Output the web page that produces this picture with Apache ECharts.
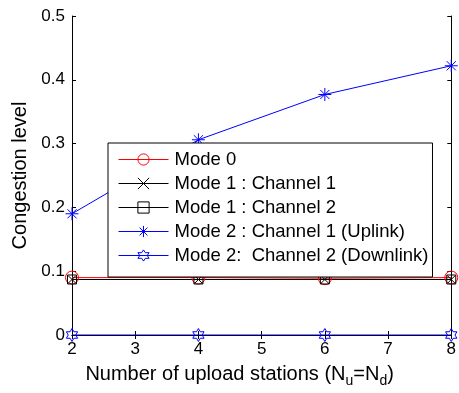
<!DOCTYPE html>
<html><head><meta charset="utf-8">
<script src="https://cdn.jsdelivr.net/npm/echarts@6/dist/echarts.min.js"></script>
<style>html,body{margin:0;padding:0;background:#fff}#c{width:459px;height:393px}</style>
</head><body><div id="c"></div>
<script>
const xValues = [2, 4, 6, 8];
const mode0 = [0.090, 0.090, 0.089, 0.090];
const mode1ch1 = [0.087, 0.087, 0.087, 0.087];
const mode1ch2 = [0.087, 0.087, 0.087, 0.087];
const mode2up = [0.190, 0.306, 0.377, 0.422];
const mode2down = [0, 0, 0, 0];
const seriesNames = ['Mode 0', 'Mode 1 : Channel 1', 'Mode 1 : Channel 2', 'Mode 2 : Channel 1 (Uplink)', 'Mode 2:  Channel 2 (Downlink)'];

const FONT = 'Liberation Sans, Arial, Helvetica, sans-serif';
const crossPath = 'path://M0,0L10,10M10,0L0,10';
const starPath = 'path://M5,0L5,10M0,5L10,5M1.5,1.5L8.5,8.5M8.5,1.5L1.5,8.5';
const hexPath = 'path://M5,0L6.443,2.5L9.33,2.5L7.887,5L9.33,7.5L6.443,7.5L5,10L3.557,7.5L0.67,7.5L2.113,5L0.67,2.5L3.557,2.5Z';

function pts(arr){ return arr.map((v,i)=>[xValues[i], v]); }
function mk(name, data, color, symbol, size){
  return {
    name, type:'line', data: pts(data), symbol, symbolSize: size, symbolKeepAspect: true,
    lineStyle:{color, width:1}, itemStyle:{color:'none', borderColor: color, borderWidth:1},
    emphasis:{disabled:true}, animation:false, z: 3
  };
}
const chart = echarts.init(document.getElementById('c'));
chart.setOption({
  backgroundColor:'#fff',
  animation:false,
  grid:{left:72, right:7, top:16, bottom:52},
  legend:{
    orient:'vertical', left:108, top:143,
    data: seriesNames,
    itemWidth:50, itemHeight:14, itemGap:5,
    padding:[7,4,12,10],
    backgroundColor:'#fff', borderColor:'#000', borderWidth:1,
    lineStyle:{width:1},
    itemStyle:{borderWidth:1},
    textStyle:{fontFamily:FONT, fontSize:18.5, color:'#000', lineHeight:19, padding:[0,0,0,1]},
    selectedMode:false
  },
  xAxis:[{
    type:'value', min:2, max:8, interval:1,
    axisLine:{lineStyle:{color:'#000'}},
    axisTick:{inside:true, length:4, lineStyle:{color:'#000'}},
    axisLabel:{fontFamily:FONT, fontSize:17, color:'#000', margin:6},
    splitLine:{show:false},
    name:'Number of upload stations (N{sub|u}=N{sub|d})',
    nameLocation:'middle', nameGap:26,
    nameTextStyle:{fontFamily:FONT, fontSize:20, color:'#000', padding:[0,44,0,0],
      rich:{sub:{fontFamily:FONT, fontSize:14, color:'#000', padding:[13,0,0,0]}}}
  },{
    type:'value', min:2, max:8, interval:1, position:'top',
    axisLine:{lineStyle:{color:'#000'}},
    axisTick:{inside:true, length:4, lineStyle:{color:'#000'}},
    axisLabel:{show:false}, splitLine:{show:false}
  }],
  yAxis:[{
    type:'value', min:0, max:0.5, interval:0.1,
    axisLine:{show:true, lineStyle:{color:'#000'}},
    axisTick:{show:true, inside:true, length:4, lineStyle:{color:'#000'}},
    axisLabel:{fontFamily:FONT, fontSize:17, color:'#000', margin:7},
    splitLine:{show:false},
    name:'Congestion level', nameLocation:'middle', nameGap:37, nameRotate:90,
    nameTextStyle:{fontFamily:FONT, fontSize:20, color:'#000'}
  },{
    type:'value', min:0, max:0.5, interval:0.1, position:'right',
    axisLine:{show:true, lineStyle:{color:'#000'}},
    axisTick:{show:true, inside:true, length:4, lineStyle:{color:'#000'}},
    axisLabel:{show:false}, splitLine:{show:false}
  }],
  series:[
    mk(seriesNames[0], mode0, '#ff0000', 'circle', 13),
    mk(seriesNames[1], mode1ch1, '#000000', crossPath, 8),
    mk(seriesNames[2], mode1ch2, '#000000', 'rect', 9),
    mk(seriesNames[3], mode2up, '#0000ff', starPath, 13),
    mk(seriesNames[4], mode2down, '#0000ff', hexPath, 13)
  ]
});
</script></body></html>
